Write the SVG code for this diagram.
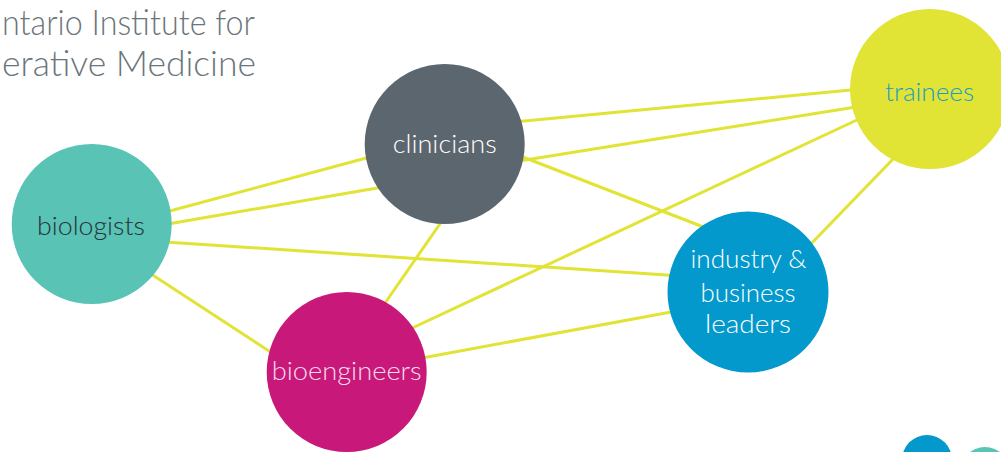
<svg xmlns="http://www.w3.org/2000/svg" width="1001" height="452" viewBox="0 0 1001 452">
<style>
.lbl{font-family:Lato,"Open Sans","Liberation Sans",sans-serif;font-weight:300;font-size:25px;text-anchor:middle}
.title{font-family:Lato,"Open Sans","Liberation Sans",sans-serif;font-weight:300;font-size:35px;fill:#6b757b;text-anchor:start}
.conn line{stroke:#e1e335;stroke-width:3;fill:none}
</style>
<rect width="1001" height="452" fill="#ffffff"/>
<g id="title">
<text class="title" x="2" y="35" textLength="253" lengthAdjust="spacingAndGlyphs">ntario Institute for</text>
<text class="title" x="2" y="76" textLength="254" lengthAdjust="spacingAndGlyphs">erative Medicine</text>
</g>
<g id="connectors" class="conn">
<line x1="166" y1="212" x2="370" y2="157"/>
<line x1="165" y1="224.5" x2="383" y2="187"/>
<line x1="165" y1="242" x2="674" y2="275.5"/>
<line x1="148" y1="272" x2="275" y2="355"/>
<line x1="519" y1="121.5" x2="856" y2="89.5"/>
<line x1="519" y1="161" x2="859" y2="106.5"/>
<line x1="519" y1="155.5" x2="706" y2="228"/>
<line x1="444" y1="218" x2="383" y2="306"/>
<line x1="408" y1="330" x2="859" y2="119"/>
<line x1="422" y1="358" x2="674" y2="311.5"/>
<line x1="808" y1="247" x2="896" y2="156"/>
</g>
<g id="biologists">
<circle cx="91.7" cy="224" r="80" fill="#59c3b6"/>
<text class="lbl" x="91" y="235" fill="#263338" textLength="108" lengthAdjust="spacingAndGlyphs">biologists</text>
</g>
<g id="clinicians">
<circle cx="444.7" cy="144" r="80" fill="#5c666e"/>
<text class="lbl" x="444.7" y="152.7" fill="#ffffff" textLength="104" lengthAdjust="spacingAndGlyphs">clinicians</text>
</g>
<g id="trainees">
<circle cx="930" cy="89" r="80" fill="#e1e335"/>
<text class="lbl" x="929.5" y="100.7" fill="#1c9dc6" textLength="89" lengthAdjust="spacingAndGlyphs">trainees</text>
</g>
<g id="industry">
<circle cx="748" cy="292" r="80.5" fill="#0399cc"/>
<text class="lbl" x="748.5" y="268" fill="#ffffff" textLength="116" lengthAdjust="spacingAndGlyphs">industry &amp;</text>
<text class="lbl" x="748" y="301.7" fill="#ffffff" textLength="95" lengthAdjust="spacingAndGlyphs">business</text>
<text class="lbl" x="748" y="333" fill="#ffffff" textLength="86" lengthAdjust="spacingAndGlyphs">leaders</text>
</g>
<g id="bioengineers">
<circle cx="346.7" cy="372" r="80" fill="#c8197b"/>
<text class="lbl" x="346.7" y="380" fill="#f7dcea" textLength="150" lengthAdjust="spacingAndGlyphs">bioengineers</text>
</g>
<g id="corner-blue">
<circle cx="927" cy="460" r="25" fill="#0399cc"/>
</g>
<g id="corner-teal">
<circle cx="985" cy="472" r="25" fill="#59c3b6"/>
</g>
</svg>
